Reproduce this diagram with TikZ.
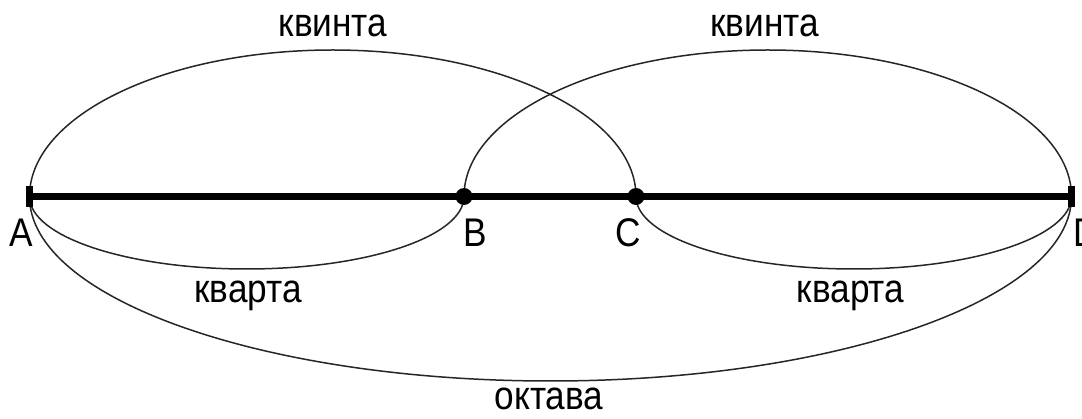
\documentclass[tikz,border=0pt]{standalone}
\usepackage{fontspec}
\setmainfont[FakeStretch=0.88]{Liberation Sans}
\begin{document}
\begin{tikzpicture}[x=1pt,y=-1pt,
  lbl/.style={font=\fontsize{40}{42}\selectfont, inner sep=0pt, anchor=base},
  thinarc/.style={line width=1.5pt, black!85},
  mainline/.style={line width=6.5pt},
  tick/.style={line width=7pt},
  pt/.style={circle, fill=black, minimum size=17pt, inner sep=0pt}]
\useasboundingbox (0,0) rectangle (1082,419);
\coordinate (A) at (29.5,196.5);
\coordinate (D) at (1071.5,196.5);
\coordinate (B) at (464,196.5);
\coordinate (C) at (636,196.5);
% arcs
\draw[thinarc] (A) arc[start angle=180, end angle=360, x radius=303.25, y radius=146.5];
\draw[thinarc] (B) arc[start angle=180, end angle=360, x radius=303.75, y radius=146.5];
\draw[thinarc] (A) arc[start angle=180, end angle=0, x radius=217.25, y radius=72.5];
\draw[thinarc] (C) arc[start angle=180, end angle=0, x radius=217.75, y radius=72.5];
\draw[thinarc] (A) arc[start angle=180, end angle=0, x radius=521, y radius=184.5];
% main line
\draw[mainline] (A) -- (D);
\draw[tick] ([yshift=-10.5pt]A) -- ([yshift=10.5pt]A);
\draw[tick] ([yshift=-10.5pt]D) -- ([yshift=10.5pt]D);
\node[pt] (Bd) at (B) {};
\node[pt] (Cd) at (C) {};
% labels
\node[lbl] (la) at (21.5,247) {A};
\node[lbl] (lb) at (475,247) {B};
\node[lbl] (lc) at (628,247) {C};
\node[lbl, anchor=base west] (ld) at (1073,247) {D};
\node[lbl] (q1) at (333,37) {квинта};
\node[lbl] (q2) at (764.5,37) {квинта};
\node[lbl] (k1) at (248,303) {кварта};
\node[lbl] (k2) at (850.5,303) {кварта};
\node[lbl] (o) at (549,410) {октава};
\end{tikzpicture}
\end{document}
